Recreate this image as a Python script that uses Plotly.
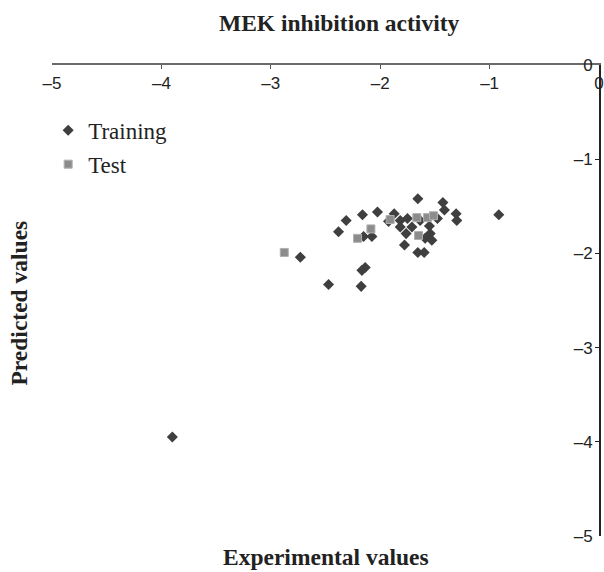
import plotly.graph_objects as go

# Data
train_x = [-1.656, -1.427, -1.413, -1.306, -1.300, -0.916, -2.025, -2.162, -2.311, -2.381,
           -2.152, -2.076, -1.872, -1.924, -1.817, -1.751, -1.817, -1.710, -1.763, -1.635,
           -1.550, -1.477, -1.543, -1.589, -1.528, -1.778, -1.656, -1.598, -2.137, -2.167,
           -2.472, -2.174, -3.900, -2.730]
train_y = [-1.42, -1.46, -1.54, -1.58, -1.65, -1.59, -1.56, -1.59, -1.65, -1.77,
           -1.82, -1.82, -1.58, -1.66, -1.65, -1.63, -1.72, -1.72, -1.79, -1.65,
           -1.71, -1.63, -1.79, -1.84, -1.86, -1.91, -1.99, -1.99, -2.15, -2.18,
           -2.33, -2.35, -3.95, -2.04]
test_x = [-1.909, -2.085, -2.207, -1.665, -1.568, -1.513, -1.650, -2.877]
test_y = [-1.64, -1.74, -1.84, -1.62, -1.62, -1.60, -1.81, -1.99]

tick_vals = [-5, -4, -3, -2, -1, 0]
tick_text = ["\u20135", "\u20134", "\u20133", "\u20132", "\u20131", "0"]

title_text = "MEK inhibition activity"
x_title = "Experimental values"
y_title = "Predicted values"

fig = go.Figure()
fig.add_trace(go.Scatter(
    x=train_x, y=train_y, mode="markers", name="Training",
    marker=dict(symbol="diamond", size=8.5, color="#3f3f3f", line=dict(width=0)),
    legendgroup="a",
))
fig.add_trace(go.Scatter(
    x=test_x, y=test_y, mode="markers", name="Test",
    marker=dict(symbol="square", size=8, color="#8c8c8c", line=dict(width=1, color="#b0b0b0")),
    legendgroup="b",
))

serif = "Liberation Serif, Times New Roman, serif"
sans = "Liberation Sans, Arial, sans-serif"

fig.update_layout(
    width=604, height=572,
    margin=dict(l=51.5, r=5, t=65, b=36, autoexpand=False),
    paper_bgcolor="white", plot_bgcolor="white",
    showlegend=True,
    legend=dict(
        x=-0.007, y=0.907, xanchor="left", yanchor="top",
        font=dict(family=serif, size=23, color="#222"),
        bgcolor="rgba(0,0,0,0)", itemwidth=30,
        traceorder="grouped", tracegroupgap=1,
    ),
    xaxis=dict(
        range=[-5, 0], side="top", showgrid=False, zeroline=False,
        showline=True, linecolor="#6a6a6a", linewidth=1.5,
        ticks="inside", ticklen=4, tickcolor="#555", tickwidth=1,
        tickvals=tick_vals, ticktext=tick_text,
        ticklabelposition="inside", ticklabeloverflow="allow",
        ticklabelstandoff=9,
        tickfont=dict(family=sans, size=17, color="#222"),
    ),
    yaxis=dict(
        range=[-5, 0], side="right", showgrid=False, zeroline=False,
        showline=True, linecolor="#222", linewidth=1.5,
        ticks="inside", ticklen=4, tickcolor="#222", tickwidth=1,
        tickvals=tick_vals, ticktext=tick_text,
        ticklabelposition="inside", ticklabeloverflow="allow",
        ticklabelstandoff=3,
        tickfont=dict(family=sans, size=17, color="#222"),
    ),
    annotations=[
        dict(text="<b>" + title_text + "</b>", xref="paper", yref="paper",
             x=0.525, y=1.089, xanchor="center", yanchor="middle", showarrow=False,
             font=dict(family=serif, size=23.5, color="#222")),
        dict(text="<b>" + x_title + "</b>", xref="paper", yref="paper",
             x=0.5, y=-0.045, xanchor="center", yanchor="middle", showarrow=False,
             font=dict(family=serif, size=23.5, color="#222")),
        dict(text="<b>" + y_title + "</b>", xref="paper", yref="paper",
             x=-0.061, y=0.495, xanchor="center", yanchor="middle", showarrow=False,
             textangle=-90, font=dict(family=serif, size=23.5, color="#222")),
    ],
)

fig.write_html("out.html", config={"displayModeBar": False},
               post_script="document.body.style.margin='0';document.body.style.overflow='hidden';")
